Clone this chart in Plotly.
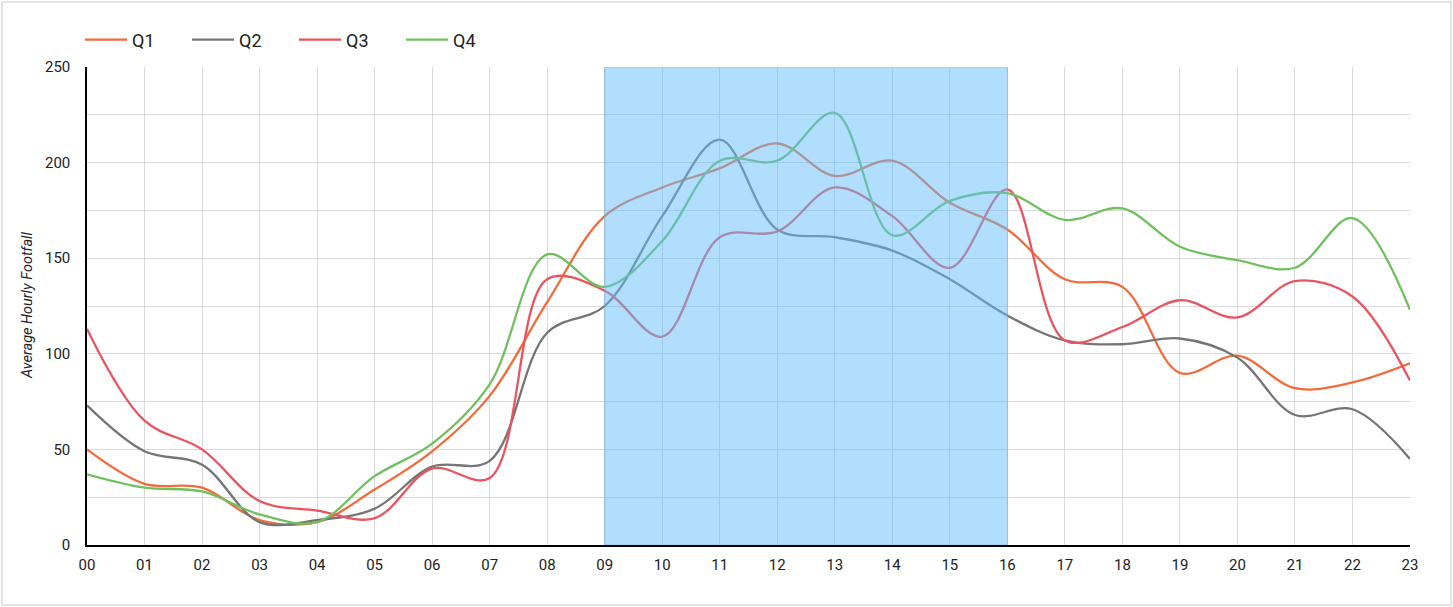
import plotly.graph_objects as go

hours = [f"{h:02d}" for h in range(24)]
series_names = ["Q1", "Q2", "Q3", "Q4"]
q1 = [50, 32, 30, 13, 12, 29, 49, 78, 127, 172, 187, 197, 210, 193, 201, 179, 165, 139, 135, 90, 99, 82, 85, 95]
q2 = [73, 49, 42, 12, 13, 19, 41, 44, 111, 125, 172, 212, 165, 161, 154, 139, 120, 107, 105, 108, 98, 68, 71, 45]
q3 = [113, 65, 50, 23, 18, 14, 40, 35, 139, 133, 109, 161, 164, 187, 172, 145, 186, 107, 114, 128, 119, 138, 130, 86]
q4 = [37, 30, 28, 16, 12, 36, 53, 84, 152, 135, 159, 201, 201, 226, 162, 180, 184, 170, 176, 156, 149, 145, 171, 123]
colors = ["#f26b3a", "#757575", "#e8545f", "#70c05f"]
highlight = ["09", "16"]
y_max = 250

fig = go.Figure()
for name, vals, col in zip(series_names, [q1, q2, q3, q4], colors):
    fig.add_trace(go.Scatter(
        x=hours, y=vals, name=name, mode="lines",
        line=dict(color=col, width=2.3, shape="spline", smoothing=1.0),
    ))

fig.add_shape(
    type="rect", xref="x", yref="y",
    x0=hours.index(highlight[0]), x1=hours.index(highlight[1]), y0=0, y1=y_max,
    fillcolor="rgba(100,190,250,0.5)", line=dict(color="rgba(110,180,230,0.6)", width=1),
    layer="above",
)

W, H = 1453, 607
L, R, T, B = 87, 43, 67, 62
pw, ph = W - L - R, H - T - B
# outer frame
fig.add_shape(
    type="rect", xref="paper", yref="paper",
    x0=(2 - L) / pw, x1=(1451 - L) / pw, y0=(H - B - 605) / ph, y1=(H - B - 2) / ph,
    line=dict(color="#dcdcdc", width=1.5), fillcolor="rgba(0,0,0,0)", layer="below",
)

fig.add_annotation(
    text="<i>Average Hourly Footfall</i>", textangle=-90,
    xref="paper", yref="paper", x=(27 - L) / pw, y=0.5,
    xanchor="center", yanchor="middle", showarrow=False,
    font=dict(family="Roboto", size=14.5, color="#222222"),
)

fig.update_layout(
    width=W, height=H,
    margin=dict(l=L, r=R, t=T, b=B),
    paper_bgcolor="white", plot_bgcolor="white",
    font=dict(family="Roboto", size=15, color="#222222"),
    showlegend=True,
    legend=dict(
        orientation="h", x=(80 - L) / pw, xanchor="left", y=1 + (T - 40) / ph, yanchor="middle",
        font=dict(family="Roboto", size=18, color="#222222"),
        entrywidth=50, entrywidthmode="pixels", itemwidth=42,
        bgcolor="rgba(0,0,0,0)",
    ),
    xaxis=dict(
        type="category", range=[0, 23], showgrid=True, gridcolor="#d9d9d9", gridwidth=1,
        showline=True, linecolor="#000000", linewidth=1.5, zeroline=False,
        ticks="", ticklabelstandoff=5, tickfont=dict(size=15, color="#222222"),
    ),
    yaxis=dict(
        range=[0, y_max], dtick=50, showgrid=True, gridcolor="#d9d9d9", gridwidth=1,
        minor=dict(dtick=25, showgrid=True, gridcolor="#d9d9d9", gridwidth=1),
        showline=True, linecolor="#000000", linewidth=1.5, zeroline=False,
        ticks="", ticklabelstandoff=12, tickfont=dict(size=15, color="#222222"),
    ),
)

fig.write_html("out.html", config={"displayModeBar": False},
               post_script="document.body.style.margin='0px';")
